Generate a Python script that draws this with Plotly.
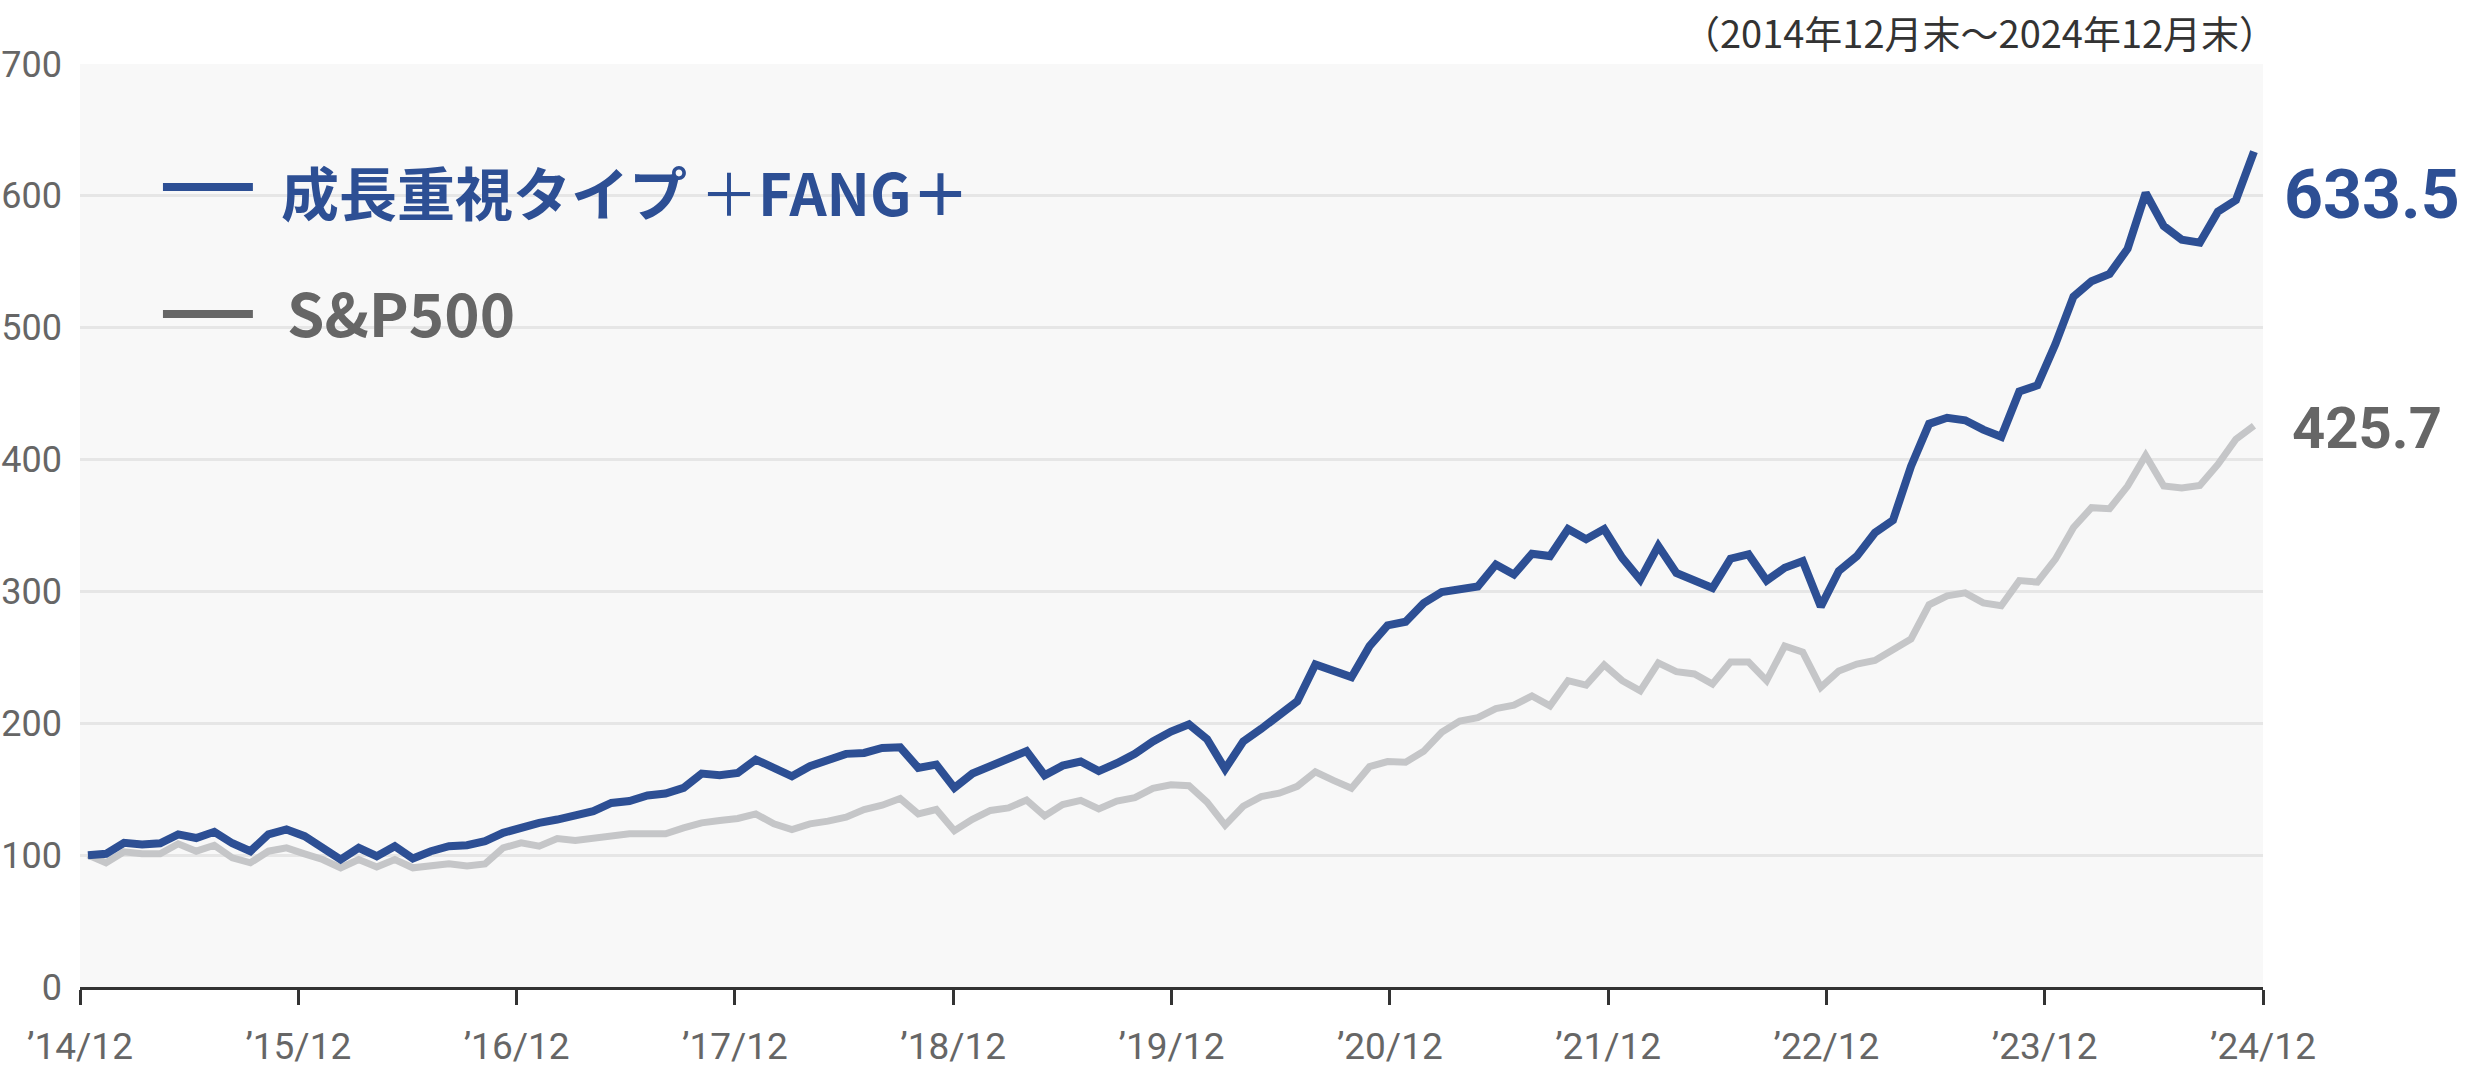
import numpy as np
import plotly.graph_objects as go

# ---- data (monthly, Dec 2014 = 100) ----
months = list(range(121))  # 2014/12 ... 2024/12

fang_plus = [
    100, 101, 109.3, 108, 109, 115.7, 113, 117.7, 109, 103, 115.7, 119.5,
    114.4, 105.5, 96.7, 105.5, 99.2, 106.8, 97.5, 103, 106.8, 107.5, 110.6, 116.9,
    121, 124.5, 127, 129.5, 133.3, 139.6, 141, 145.2, 146.7, 151, 161.9, 160.6,
    162.4, 172.5, 166.9, 159.8, 167.4, 171.7, 176.8, 177.5, 181.3, 181.8, 166.2, 168.7,
    151, 161.9, 167.9, 172.8, 178.9, 160.6, 167.9, 171, 163.7, 169.7, 176.8, 186.2,
    193.7, 199.2, 188, 165.3, 186.2, 195.8, 206.3, 216.7, 244.6, 239.4, 235, 258.5,
    274.2, 277, 291.1, 299.5, 301.3, 303.8, 320.4, 312.8, 328.6, 326.8, 347.3, 339.6,
    347.3, 325.5, 308.9, 334.5, 314, 308.9, 302.6, 324.8, 328.1, 308.2, 317.9, 323,
    288.5, 315.5, 326.7, 344.5, 354, 394.9, 427.1, 431.7, 429.8, 422.7, 417.3, 451.6,
    456.3, 487.6, 523.6, 535.3, 540.8, 559.9, 602.2, 577.1, 566.7, 564.5, 588, 596.7,
    633.5,
]

sp500 = [
    100, 94.2, 102.5, 101, 101, 108.6, 103, 107.5, 98, 94.2, 103, 105.5,
    101, 96.7, 90.4, 96.7, 91, 96.7, 90.4, 92.4, 93.4, 91.7, 93.4, 105.5,
    109.3, 106.8, 112.6, 111.1, 112.6, 113.6, 116.2, 116.2, 116.2, 120.7, 124.5, 126.3,
    127.8, 131.3, 123.7, 119.4, 123.7, 125.8, 128.8, 134.6, 137.9, 142.9, 131.3, 134.6,
    118.5, 127.2, 133.9, 135.8, 141.8, 129.8, 138.4, 141.5, 135, 141, 143.6, 150.7,
    153.3, 152.7, 140.2, 122.7, 137.1, 144.4, 147, 152.2, 163.2, 156.7, 150.7, 167.1,
    171, 170.5, 178.7, 193.2, 201.7, 204.2, 211.1, 213.7, 220.8, 213.2, 232.3, 229,
    244.3, 232.3, 224.6, 245.8, 239.2, 237.4, 229.8, 246.4, 246.4, 232.3, 258.6, 254,
    227.2, 239.7, 244.9, 247.6, 256.4, 264, 289.9, 296.7, 298.9, 291.3, 289.1, 308.2,
    307.1, 324.5, 348.5, 363.5, 362.7, 379.9, 403.1, 379.9, 378.5, 380.4, 396.3, 415.4,
    425.7,
]

x_tick_labels = ["’14/12", "’15/12", "’16/12", "’17/12", "’18/12", "’19/12",
                 "’20/12", "’21/12", "’22/12", "’23/12", "’24/12"]
y_tick_values = [0, 100, 200, 300, 400, 500, 600, 700]

series_names = ["成長重視タイプ ＋FANG＋", "S&P500"]
period_note = "（2014年12月末～2024年12月末）"

# ---- styling ----
BLUE = "#2d4f94"
GRAY_LINE = "#c5c6c8"
GRAY_TEXT = "#666666"
NUMF = "Roboto, Liberation Sans, sans-serif"
CJK = "Noto Sans CJK JP, Noto Sans, sans-serif"

x_range = [-0.44, 120.5]
x_tick_pos = list(np.linspace(x_range[0], x_range[1], len(x_tick_labels)))

fig = go.Figure()
fig.add_trace(go.Scatter(x=months, y=sp500, mode="lines", name=series_names[1],
                         line=dict(color=GRAY_LINE, width=7), hoverinfo="skip"))
fig.add_trace(go.Scatter(x=months, y=fang_plus, mode="lines", name=series_names[0],
                         line=dict(color=BLUE, width=8), hoverinfo="skip"))

fig.update_layout(
    width=2466, height=1069,
    margin=dict(l=80, r=203, t=64, b=82),
    paper_bgcolor="white", plot_bgcolor="#f8f8f8",
    showlegend=False,
    xaxis=dict(range=x_range, tickvals=x_tick_pos, ticktext=x_tick_labels,
               automargin=False,
               showgrid=False, zeroline=False, showline=True, linecolor="#333333",
               linewidth=3, ticks="outside", ticklen=15, tickwidth=2.5, tickcolor="#333333",
               tickfont=dict(family=NUMF, size=37, color=GRAY_TEXT),
               ticklabelstandoff=10),
    yaxis=dict(range=[0, 700], tickvals=y_tick_values, showgrid=True,
               automargin=False,
               gridcolor="#e6e6e6", gridwidth=3, zeroline=False, showline=False,
               ticks="", tickfont=dict(family=NUMF, size=36, color=GRAY_TEXT),
               ticklabelstandoff=17),
)

# legend (drawn manually to match the original layout)
fig.add_shape(type="line", xref="paper", yref="paper", x0=0.038, x1=0.0792,
              y0=0.8667, y1=0.8667, line=dict(color=BLUE, width=8))
fig.add_shape(type="line", xref="paper", yref="paper", x0=0.038, x1=0.0792,
              y0=0.7291, y1=0.7291, line=dict(color=GRAY_TEXT, width=8))
fig.add_annotation(xref="paper", yref="paper", x=0.0912, y=0.8624, xanchor="left",
                   yanchor="middle", showarrow=False,
                   text="<b>成長重視タイプ</b> ＋<b>FANG＋</b>",
                   font=dict(family=CJK, size=58, color=BLUE))
fig.add_annotation(xref="paper", yref="paper", x=0.0939, y=0.7324, xanchor="left",
                   yanchor="middle", showarrow=False, text="<b>S&P500</b>",
                   font=dict(family=CJK, size=60, color=GRAY_TEXT))

# end-value labels
fig.add_annotation(x=months[-1], y=fang_plus[-1], xanchor="left", yanchor="middle",
                   xshift=28, yshift=-43, showarrow=False,
                   text=f"<b>{fang_plus[-1]:.1f}</b>",
                   font=dict(family=NUMF, size=68, color=BLUE))
fig.add_annotation(x=months[-1], y=sp500[-1], xanchor="left", yanchor="middle",
                   xshift=36, yshift=-2, showarrow=False,
                   text=f"<b>{sp500[-1]:.1f}</b>",
                   font=dict(family=NUMF, size=58, color=GRAY_TEXT))

# period note
fig.add_annotation(xref="paper", yref="paper", x=1.0, y=1.0672, xanchor="right",
                   yanchor="top", xshift=16, yshift=0, showarrow=False, text=period_note,
                   font=dict(family=CJK, size=38, color="#333333"))

fig.write_html("out.html", config={"displayModeBar": False},
               post_script="document.body.style.margin='0';")
